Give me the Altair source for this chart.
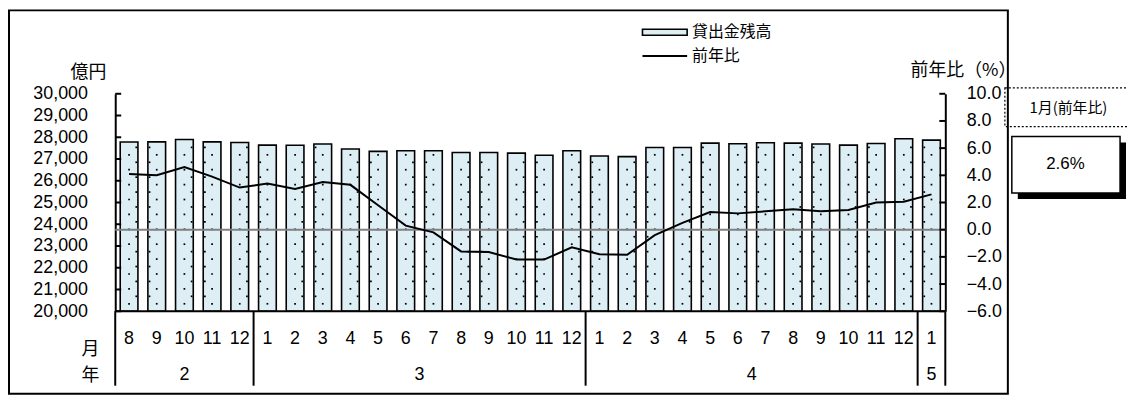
import altair as alt
import pandas as pd

# ---- data ----
months = [8, 9, 10, 11, 12, 1, 2, 3, 4, 5, 6, 7, 8, 9, 10, 11, 12,
          1, 2, 3, 4, 5, 6, 7, 8, 9, 10, 11, 12, 1]
years = ["2"] * 5 + ["3"] * 12 + ["4"] * 12 + ["5"]
balance = [27780, 27790, 27900, 27790, 27760, 27640, 27630, 27690, 27460, 27350,
           27380, 27380, 27300, 27300, 27270, 27170, 27380, 27140, 27110, 27530,
           27530, 27730, 27700, 27745, 27730, 27690, 27640, 27710, 27930, 27870]
yoy = [4.1, 4.0, 4.6, 3.9, 3.1, 3.4, 3.0, 3.5, 3.3, 1.8, 0.3, -0.2, -1.6, -1.65, -2.2,
       -2.2, -1.3, -1.8, -1.85, -0.4, 0.5, 1.3, 1.2, 1.35, 1.5, 1.35, 1.45, 2.0, 2.05, 2.6]
left_ticks = [20000, 21000, 22000, 23000, 24000, 25000, 26000, 27000, 28000, 29000, 30000]
right_ticks = [-6, -4, -2, 0, 2, 4, 6, 8, 10]

FONT = "Noto Sans CJK JP"
NUM = "Liberation Sans"
FILL = "#DDEEF4"
n = len(months)
W, H = 836, 219

df = pd.DataFrame({"idx": list(range(n)), "month": [str(m) for m in months],
                   "year": years, "balance": balance, "yoy": yoy})

# year separators (derived from year list)
seps = []
for i in range(n):
    if i == 0 or years[i] != years[i - 1]:
        seps.append(i - 0.5)
seps.append(n - 0.5)
sep_df = pd.DataFrame({"pos": seps})

# dotted texture inside bars (derived from bar values)
dots = []
step = 685
for i, v in enumerate(balance):
    y = 20000 + step / 2
    while y < v - 150:
        dots.append({"x": i, "y": y})
        y += step
    y = 20000 + step
    side = 0.26 if i % 2 == 0 else -0.26
    while y < v - 150:
        dots.append({"x": i + side, "y": y})
        y += step
dots_df = pd.DataFrame(dots)

xs = alt.Scale(domain=[-0.5, n - 0.5], nice=False, zero=False)
ysl = alt.Scale(domain=[left_ticks[0], left_ticks[-1]], nice=False, zero=False)
ysr = alt.Scale(domain=[right_ticks[0], right_ticks[-1]], nice=False, zero=False)

left_axis = alt.Axis(values=left_ticks, labelExpr="format(datum.value, ',')", ticks=False,
                     grid=False, domainColor="black", domainWidth=2, labelFont=NUM,
                     labelFontSize=18, labelColor="black", labelPadding=28, title=None,
                     orient="left")
right_axis = alt.Axis(values=right_ticks, labelExpr="format(datum.value, '.1f')", ticks=False,
                      grid=False, domainColor="black", domainWidth=2, labelFont=NUM,
                      labelFontSize=18, labelColor="black", labelPadding=21, title=None,
                      orient="right", labelAlign="left")

bars = alt.Chart(df).transform_calculate(
    lo="datum.idx - 0.32", hi="datum.idx + 0.32"
).mark_rect(fill=FILL, stroke="black", strokeWidth=1.6).encode(
    x=alt.X("lo:Q", scale=xs, axis=None),
    x2="hi:Q",
    y=alt.Y("balance:Q", scale=ysl, axis=left_axis, title=None),
    y2=alt.datum(left_ticks[0]),
)
dot_layer = alt.Chart(dots_df).mark_square(size=3, color="black", opacity=1).encode(
    x=alt.X("x:Q", scale=xs, axis=None),
    y=alt.Y("y:Q", scale=ysl, axis=left_axis, title=None),
)
lticks = alt.Chart(pd.DataFrame({"v": left_ticks})).mark_rule(color="black", strokeWidth=2).encode(
    y=alt.Y("v:Q", scale=ysl, axis=left_axis, title=None),
    x=alt.value(0), x2=alt.value(6),
)
left_group = alt.layer(bars, dot_layer, lticks)

zero = alt.Chart(pd.DataFrame({"z": [0]})).mark_rule(color="#808080", strokeWidth=2).encode(
    y=alt.Y("z:Q", scale=ysr, axis=right_axis, title=None),
    x=alt.value(0), x2=alt.value(W),
)
line = alt.Chart(df).mark_line(color="black", strokeWidth=2).encode(
    x=alt.X("idx:Q", scale=xs, axis=None),
    y=alt.Y("yoy:Q", scale=ysr, axis=right_axis, title=None),
)
rticks = alt.Chart(pd.DataFrame({"v": right_ticks})).mark_rule(color="black", strokeWidth=2).encode(
    y=alt.Y("v:Q", scale=ysr, axis=right_axis, title=None),
    x=alt.value(W - 6), x2=alt.value(W),
)
right_group = alt.layer(zero, line, rticks)

one = pd.DataFrame({"k": [0]})

bottom = alt.Chart(one).mark_rule(color="black", strokeWidth=2).encode(
    y=alt.value(H), x=alt.value(0), x2=alt.value(W))
seps_layer = alt.Chart(sep_df).mark_rule(color="black", strokeWidth=2).encode(
    x=alt.X("pos:Q", scale=xs, axis=None), y=alt.value(H), y2=alt.value(H + 75))
month_txt = alt.Chart(df).mark_text(font=NUM, fontSize=18, color="black", baseline="middle").encode(
    x=alt.X("idx:Q", scale=xs, axis=None), y=alt.value(247), text="month:N")
year_txt = alt.Chart(df).transform_aggregate(
    mid="mean(idx)", groupby=["year"]
).mark_text(font=NUM, fontSize=18, color="black", baseline="middle").encode(
    x=alt.X("mid:Q", scale=xs, axis=None), y=alt.value(283), text="year:N")

def label(txt, x, y, size=18, align="center", font=FONT):
    return alt.Chart(pd.DataFrame({"t": [txt]})).mark_text(
        font=font, fontSize=size, color="black", align=align, baseline="middle"
    ).encode(x=alt.value(x), y=alt.value(y), text="t:N")

frame = alt.Chart(one).mark_rect(filled=False, stroke="black", strokeWidth=2).encode(
    x=alt.value(-107), x2=alt.value(899), y=alt.value(-84), y2=alt.value(302))

leg_rect = alt.Chart(one).mark_rect(fill=FILL, stroke="black", strokeWidth=1.6).encode(
    x=alt.value(531), x2=alt.value(576), y=alt.value(-65), y2=alt.value(-59))
leg_line = alt.Chart(one).mark_rule(color="black", strokeWidth=2).encode(
    x=alt.value(531), x2=alt.value(576), y=alt.value(-38))

ann_box = alt.Chart(one).mark_rect(filled=False, stroke="black", strokeWidth=1.2,
                                   strokeDash=[2, 2]).encode(
    x=alt.value(896), x2=alt.value(1022), y=alt.value(-6), y2=alt.value(33))
shadow = alt.Chart(one).mark_rect(fill="black").encode(
    x=alt.value(909), x2=alt.value(1018), y=alt.value(49), y2=alt.value(106))
valbox = alt.Chart(one).mark_rect(fill="white", stroke="black", strokeWidth=1.5).encode(
    x=alt.value(903), x2=alt.value(1012), y=alt.value(43), y2=alt.value(100))

chart = alt.layer(
    frame,
    left_group, right_group,
    bottom, seps_layer, month_txt, year_txt,
    label("月", -16, 258, align="right"),
    label("年", -16, 284, align="right"),
    label("億円", -9, -21, align="right"),
    label("前年比（%）", 801, -23, align="left"),
    leg_rect, leg_line,
    label("貸出金残高", 581, -62, size=16, align="left"),
    label("前年比", 581, -38, size=16, align="left"),
    ann_box, label(f"{months[-1]}月(前年比)", 960, 14, size=15),
    shadow, valbox, label(f"{yoy[-1]:.1f}%", 957, 71, size=17, font=NUM),
).resolve_scale(y="independent").properties(
    width=W, height=H,
    padding={"left": 108, "top": 85, "right": 184, "bottom": 85},
    autosize=alt.AutoSizeParams(type="none"),
).configure_view(stroke=None)

chart.save("out.html", embed_options={"renderer": "svg", "actions": False})
